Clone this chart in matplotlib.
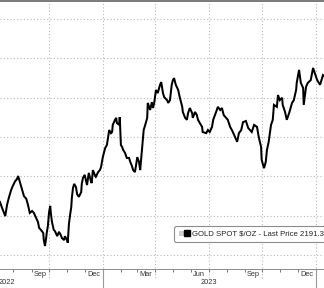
import matplotlib
matplotlib.use("Agg")
import matplotlib.pyplot as plt
import matplotlib.dates as mdates
import matplotlib.font_manager as fm
from matplotlib.lines import Line2D
from matplotlib.legend_handler import HandlerTuple
import matplotlib.transforms as mtransforms
import pandas as pd

# ---------------- data ----------------
dates = [
    "2022-07-09", "2022-07-12", "2022-07-16", "2022-07-18", "2022-07-21", "2022-07-24",
    "2022-07-28", "2022-07-31", "2022-08-04", "2022-08-07", "2022-08-09", "2022-08-12",
    "2022-08-16", "2022-08-19", "2022-08-23", "2022-08-26", "2022-08-29", "2022-09-02",
    "2022-09-05", "2022-09-09", "2022-09-12", "2022-09-14", "2022-09-17", "2022-09-21",
    "2022-09-22", "2022-09-24", "2022-09-26", "2022-09-27", "2022-09-29", "2022-10-01",
    "2022-10-03", "2022-10-04", "2022-10-06", "2022-10-09", "2022-10-11", "2022-10-15",
    "2022-10-18", "2022-10-21", "2022-10-23", "2022-10-27", "2022-10-28", "2022-11-01",
    "2022-11-02", "2022-11-04", "2022-11-06", "2022-11-08", "2022-11-09", "2022-11-11",
    "2022-11-13", "2022-11-16", "2022-11-18", "2022-11-21", "2022-11-25", "2022-11-26",
    "2022-11-28", "2022-12-01", "2022-12-05", "2022-12-08", "2022-12-12", "2022-12-13",
    "2022-12-15", "2022-12-19", "2022-12-20", "2022-12-24", "2022-12-27", "2022-12-29",
    "2023-01-01", "2023-01-05", "2023-01-08", "2023-01-12", "2023-01-15", "2023-01-17",
    "2023-01-18", "2023-01-22", "2023-01-24", "2023-01-25", "2023-01-29", "2023-01-30",
    "2023-02-01", "2023-02-03", "2023-02-05", "2023-02-08", "2023-02-11", "2023-02-15",
    "2023-02-17", "2023-02-20", "2023-02-22", "2023-02-25", "2023-02-27", "2023-03-01",
    "2023-03-04", "2023-03-06", "2023-03-09", "2023-03-11", "2023-03-12", "2023-03-16",
    "2023-03-18", "2023-03-19", "2023-03-23", "2023-03-26", "2023-03-28", "2023-03-30",
    "2023-04-02", "2023-04-05", "2023-04-09", "2023-04-11", "2023-04-14", "2023-04-16",
    "2023-04-21", "2023-04-23", "2023-04-26", "2023-04-29", "2023-05-01", "2023-05-03",
    "2023-05-06", "2023-05-10", "2023-05-13", "2023-05-17", "2023-05-18", "2023-05-22",
    "2023-05-25", "2023-05-27", "2023-05-30", "2023-06-03", "2023-06-04", "2023-06-08",
    "2023-06-11", "2023-06-13", "2023-06-16", "2023-06-20", "2023-06-21", "2023-06-27",
    "2023-06-30", "2023-07-03", "2023-07-07", "2023-07-09", "2023-07-14", "2023-07-17",
    "2023-07-21", "2023-07-24", "2023-07-27", "2023-07-31", "2023-08-03", "2023-08-07",
    "2023-08-10", "2023-08-14", "2023-08-19", "2023-08-22", "2023-08-26", "2023-08-29",
    "2023-09-03", "2023-09-07", "2023-09-10", "2023-09-13", "2023-09-17", "2023-09-22",
    "2023-09-25", "2023-09-29", "2023-09-30", "2023-10-04", "2023-10-07", "2023-10-09",
    "2023-10-12", "2023-10-16", "2023-10-19", "2023-10-21", "2023-10-26", "2023-10-28",
    "2023-10-31", "2023-11-04", "2023-11-05", "2023-11-09", "2023-11-12", "2023-11-16",
    "2023-11-21", "2023-11-24", "2023-11-28", "2023-11-29", "2023-12-03", "2023-12-06",
    "2023-12-10", "2023-12-11", "2023-12-15", "2023-12-18", "2023-12-23", "2023-12-27",
    "2023-12-30", "2024-01-03", "2024-01-08", "2024-01-13", "2024-01-15",
]
gold_price = [
    1735, 1722, 1707, 1699, 1727, 1745,
    1765, 1776, 1788, 1793, 1801, 1786,
    1765, 1750, 1743, 1727, 1707, 1712,
    1707, 1694, 1684, 1669, 1664, 1656,
    1638, 1623, 1643, 1656, 1674, 1709,
    1725, 1707, 1684, 1664, 1661, 1648,
    1659, 1651, 1643, 1638, 1648, 1638,
    1631, 1679, 1702, 1722, 1745, 1771,
    1781, 1773, 1755, 1748, 1760, 1781,
    1796, 1804, 1778, 1809, 1786, 1783,
    1816, 1801, 1799, 1811, 1816, 1824,
    1849, 1872, 1880, 1918, 1910, 1913,
    1931, 1944, 1949, 1936, 1931, 1951,
    1880, 1875, 1867, 1860, 1847, 1847,
    1837, 1826, 1816, 1811, 1829, 1849,
    1837, 1816, 1867, 1898, 1918, 1938,
    1949, 1987, 1969, 1989, 1974, 1987,
    2020, 2012, 2033, 2040, 2012, 2002,
    1994, 1987, 1994, 2033, 2045, 2050,
    2033, 2020, 2000, 1977, 1964, 1949,
    1944, 1961, 1974, 1961, 1949, 1964,
    1956, 1944, 1936, 1926, 1913, 1910,
    1918, 1913, 1926, 1944, 1964, 1977,
    1969, 1974, 1956, 1949, 1944, 1926,
    1918, 1905, 1888, 1910, 1918, 1938,
    1941, 1923, 1918, 1913, 1931, 1926,
    1900, 1875, 1842, 1821, 1837, 1867,
    1888, 1931, 1944, 1982, 1977, 2007,
    1994, 2000, 1982, 1964, 1944, 1961,
    1987, 1994, 2020, 2038, 2071, 2038,
    2025, 1982, 2028, 2038, 2045, 2076,
    2063, 2045, 2033, 2058, 2056,
]
y_levels = [1600, 1700, 1800, 1900, 2000, 2100, 2200]
month_labels = ["Sep", "Dec", "Mar", "Jun", "Sep", "Dec"]
label_dates = ["2022-09-15", "2022-12-16", "2023-03-16", "2023-06-15", "2023-09-15", "2023-12-16"]
quarter_starts = ["2022-10-01", "2023-01-01", "2023-04-01", "2023-07-01", "2023-10-01", "2024-01-01"]
year_starts = ["2023-01-01", "2024-01-01"]
year_labels = ["2022", "2023"]
year_label_dates = ["2022-08-04", "2023-07-01"]
legend_label = "GOLD SPOT $/OZ - Last Price 2191.31"

# ---------------- fonts ----------------
avail = {f.name for f in fm.fontManager.ttflist}
if "Liberation Sans Narrow" in avail:
    font = "Liberation Sans Narrow"
    tick_fs, leg_fs = 6.3, 6.8
else:
    font = "Liberation Sans"
    tick_fs, leg_fs = 5.3, 5.6
plt.rcParams["font.family"] = [font, "DejaVu Sans"]

x = pd.to_datetime(dates)

fig = plt.figure(figsize=(3.24, 2.88), dpi=100)
ax = fig.add_axes([0.0, 19 / 288, 1.0, 1 - 20 / 288])

grid_kw = dict(color="#b8b8b8", lw=0.8, ls=(0, (1, 2)))

ax.plot(x, gold_price, color="black", lw=1.45, solid_joinstyle="miter", zorder=3)

ax.set_xlim(pd.Timestamp("2022-07-09"), pd.Timestamp("2024-01-14 17:00"))
ax.set_ylim(1564.4, 2246.3)

# horizontal grid
ax.set_yticks(y_levels)
ax.tick_params(axis="y", length=0, labelleft=False, labelright=False)
ax.yaxis.grid(True, **grid_kw)

# vertical quarter grid (extends a little below the axis)
for d in quarter_starts:
    ax.axvline(pd.Timestamp(d), ymin=-0.035, ymax=1, clip_on=False, zorder=1, **grid_kw)

# year separators below the axis
for d in year_starts:
    ax.axvline(pd.Timestamp(d), ymin=-0.075, ymax=0, clip_on=False, color="#9a9a9a", lw=0.8)

# x ticks: minor at month boundaries, labels at mid-month
ax.xaxis.set_minor_locator(mdates.MonthLocator())
ax.set_xticks(pd.to_datetime(label_dates))
ax.set_xticklabels(month_labels)
ax.tick_params(axis="x", which="major", length=0, pad=1.2, labelsize=tick_fs, labelcolor="#333333")
ax.tick_params(axis="x", which="minor", length=2.2, width=0.7, color="#777777", direction="out")

trans = mtransforms.blended_transform_factory(ax.transData, ax.transAxes)
for lab, d in zip(year_labels, year_label_dates):
    ha = "right" if lab == "2022" else "center"
    ax.text(pd.Timestamp(d), -0.052, lab, transform=trans, ha=ha, va="center",
            fontsize=tick_fs, color="#333333", clip_on=False)

# spines
for s in ["left", "right"]:
    ax.spines[s].set_visible(False)
ax.spines["top"].set_color("#7a7a7a")
ax.spines["top"].set_linewidth(1.4)
ax.spines["bottom"].set_color("#8a8a8a")
ax.spines["bottom"].set_linewidth(0.7)

# legend
h_gray = Line2D([], [], ls="none", marker="s", markersize=3.0, markerfacecolor="#d0d0d0",
                markeredgecolor="#b0b0b0", markeredgewidth=0.4)
h_black = Line2D([], [], ls="none", marker="s", markersize=4.3, markerfacecolor="black",
                 markeredgecolor="black")
leg = ax.legend([(h_gray, h_black)], [legend_label],
                handler_map={tuple: HandlerTuple(ndivide=None, pad=0.25)},
                loc="lower left", bbox_to_anchor=(174 / 324, (269 - 242) / 268),
                bbox_transform=ax.transAxes, borderaxespad=0, fontsize=leg_fs,
                frameon=True, fancybox=True, framealpha=1, edgecolor="#8c8c8c",
                handlelength=1.4, handletextpad=0.3, borderpad=0.55)
leg.get_frame().set_linewidth(0.8)
for t in leg.get_texts():
    t.set_color("#222222")

fig.savefig("out.png", dpi=100)
